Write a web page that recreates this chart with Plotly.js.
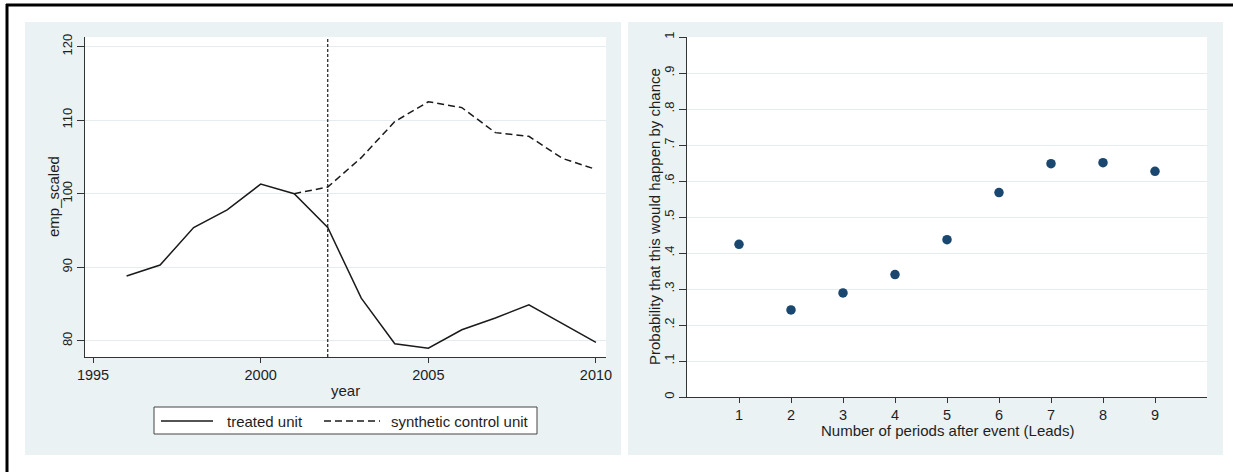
<!DOCTYPE html>
<html>
<head>
<meta charset="utf-8">
<script src="https://cdn.plot.ly/plotly-3.0.1.min.js"></script>
<style>
  html, body { margin: 0; padding: 0; background: #ffffff; }
  #chart { width: 1233px; height: 472px; }
</style>
</head>
<body>
<div id="chart"></div>
<script>
// ---------- data ----------
const years = [1996, 1997, 1998, 1999, 2000, 2001, 2002, 2003, 2004, 2005, 2006, 2007, 2008, 2009, 2010];
const treatedUnit = [88.8, 90.3, 95.4, 97.8, 101.3, 100.0, 95.4, 85.8, 79.6, 79.0, 81.5, 83.1, 84.9, 82.4, 79.8];
const syntheticYears = [2001, 2002, 2003, 2004, 2005, 2006, 2007, 2008, 2009, 2010];
const syntheticControl = [100.0, 100.9, 104.9, 109.8, 112.5, 111.7, 108.3, 107.8, 104.8, 103.3];
const treatmentYear = 2002;

const leads = [1, 2, 3, 4, 5, 6, 7, 8, 9];
const probability = [0.424, 0.242, 0.289, 0.340, 0.437, 0.568, 0.648, 0.651, 0.627];

const yearTicks = [1995, 2000, 2005, 2010];
const empTicks = [80, 90, 100, 110, 120];
const probTickVals = [0, 0.1, 0.2, 0.3, 0.4, 0.5, 0.6, 0.7, 0.8, 0.9, 1];
const probTickText = ['0', '.1', '.2', '.3', '.4', '.5', '.6', '.7', '.8', '.9', '1'];

const legendLabels = ['treated unit', 'synthetic control unit'];
const leftTitles = { x: 'year', y: 'emp_scaled' };
const rightTitles = { x: 'Number of periods after event (Leads)', y: 'Probability that this would happen by chance' };

// ---------- layout helpers ----------
const W = 1233, H = 472;
const fx = v => v / W;
const fy = v => 1 - v / H;
const FONT = '"Liberation Sans", Arial, sans-serif';
const TXT = '#1e1e1e';
const PANEL = '#EAF2F3';
const GRID = '#E4ECEE';
const AX = '#333333';

const traces = [
  {
    x: years, y: treatedUnit, type: 'scatter', mode: 'lines',
    name: legendLabels[0], xaxis: 'x', yaxis: 'y',
    line: { color: '#1a1a1a', width: 1.5 }, hoverinfo: 'x+y'
  },
  {
    x: syntheticYears, y: syntheticControl, type: 'scatter', mode: 'lines',
    name: legendLabels[1], xaxis: 'x', yaxis: 'y',
    line: { color: '#1a1a1a', width: 1.5, dash: '7px,4px' }, hoverinfo: 'x+y'
  },
  {
    x: leads, y: probability, type: 'scatter', mode: 'markers',
    name: 'probability', xaxis: 'x2', yaxis: 'y2',
    marker: { color: '#1a476f', size: 9.5, line: { width: 0 } }
  }
];

const axisCommon = {
  showline: true, linecolor: AX, linewidth: 1,
  ticks: 'outside', tickcolor: AX, tickwidth: 1,
  zeroline: false, fixedrange: true,
  tickfont: { family: FONT, size: 14.5, color: TXT }
};

const layout = {
  width: W, height: H,
  margin: { l: 0, r: 0, t: 0, b: 0, pad: 0 },
  paper_bgcolor: '#ffffff',
  plot_bgcolor: 'rgba(0,0,0,0)',
  showlegend: false,
  font: { family: FONT, color: TXT },
  xaxis: Object.assign({}, axisCommon, {
    domain: [fx(85), fx(606)], anchor: 'y',
    range: [1994.76, 2010.3],
    tickmode: 'array', tickvals: yearTicks,
    ticklen: 5, showgrid: false
  }),
  yaxis: Object.assign({}, axisCommon, {
    domain: [fy(357), fy(37)], anchor: 'x',
    range: [77.8, 121.3],
    tickmode: 'array', tickvals: empTicks,
    tickangle: -90, ticklen: 7,
    showgrid: true, gridcolor: GRID, gridwidth: 1,
    tickfont: { family: FONT, size: 13, color: TXT }
  }),
  xaxis2: Object.assign({}, axisCommon, {
    domain: [fx(687), fx(1207)], anchor: 'y2',
    range: [0, 10],
    tickmode: 'array', tickvals: leads,
    ticklen: 5, showgrid: false
  }),
  yaxis2: Object.assign({}, axisCommon, {
    domain: [fy(397), fy(37)], anchor: 'x2',
    range: [0, 1],
    tickmode: 'array', tickvals: probTickVals, ticktext: probTickText,
    tickangle: -90, ticklen: 7,
    showgrid: true, gridcolor: GRID, gridwidth: 1,
    tickfont: { family: FONT, size: 13, color: TXT }
  }),
  shapes: [
    // panel backgrounds
    { type: 'rect', xref: 'paper', yref: 'paper', x0: fx(25), x1: fx(621), y0: fy(455), y1: fy(22),
      fillcolor: PANEL, line: { width: 0 }, layer: 'below' },
    { type: 'rect', xref: 'paper', yref: 'paper', x0: fx(628), x1: fx(1223), y0: fy(455), y1: fy(22),
      fillcolor: PANEL, line: { width: 0 }, layer: 'below' },
    // plot areas
    { type: 'rect', xref: 'paper', yref: 'paper', x0: fx(85), x1: fx(606), y0: fy(357), y1: fy(37),
      fillcolor: '#ffffff', line: { width: 0 }, layer: 'below' },
    { type: 'rect', xref: 'paper', yref: 'paper', x0: fx(687), x1: fx(1207), y0: fy(397), y1: fy(37),
      fillcolor: '#ffffff', line: { width: 0 }, layer: 'below' },
    // treatment year marker
    { type: 'line', xref: 'x', yref: 'y domain', x0: treatmentYear, x1: treatmentYear, y0: 0, y1: 1,
      line: { color: '#1a1a1a', width: 1.2, dash: '3px,2px' }, layer: 'above' },
    // legend box
    { type: 'rect', xref: 'paper', yref: 'paper', x0: fx(154), x1: fx(537), y0: fy(434), y1: fy(407),
      fillcolor: '#ffffff', line: { color: '#444444', width: 1 } },
    { type: 'line', xref: 'paper', yref: 'paper', x0: fx(161), x1: fx(213), y0: fy(421), y1: fy(421),
      line: { color: '#1a1a1a', width: 1.5 } },
    { type: 'line', xref: 'paper', yref: 'paper', x0: fx(324), x1: fx(380), y0: fy(421), y1: fy(421),
      line: { color: '#1a1a1a', width: 1.5, dash: '7px,4px' } },
    // outer frame (top and left)
    { type: 'line', xref: 'paper', yref: 'paper', x0: fx(6), x1: 1, y0: fy(5), y1: fy(5),
      line: { color: '#000000', width: 3 } },
    { type: 'line', xref: 'paper', yref: 'paper', x0: fx(7), x1: fx(7), y0: fy(4), y1: 0,
      line: { color: '#000000', width: 3 } }
  ],
  annotations: [
    { text: leftTitles.x, xref: 'paper', yref: 'paper', x: fx(345.5), y: fy(390),
      xanchor: 'center', yanchor: 'middle', showarrow: false,
      font: { family: FONT, size: 15, color: TXT } },
    { text: leftTitles.y, xref: 'paper', yref: 'paper', x: fx(53), y: fy(197),
      xanchor: 'center', yanchor: 'middle', showarrow: false, textangle: -90,
      font: { family: FONT, size: 15, color: TXT } },
    { text: rightTitles.x, xref: 'paper', yref: 'paper', x: fx(947), y: fy(430),
      xanchor: 'center', yanchor: 'middle', showarrow: false,
      font: { family: FONT, size: 15, color: TXT } },
    { text: rightTitles.y, xref: 'paper', yref: 'paper', x: fx(654), y: fy(217),
      xanchor: 'center', yanchor: 'middle', showarrow: false, textangle: -90,
      font: { family: FONT, size: 15, color: TXT } },
    { text: legendLabels[0], xref: 'paper', yref: 'paper', x: fx(225), y: fy(421),
      xanchor: 'left', yanchor: 'middle', showarrow: false,
      font: { family: FONT, size: 15, color: TXT } },
    { text: legendLabels[1], xref: 'paper', yref: 'paper', x: fx(389), y: fy(421),
      xanchor: 'left', yanchor: 'middle', showarrow: false,
      font: { family: FONT, size: 15, color: TXT } }
  ]
};

Plotly.newPlot('chart', traces, layout, { displayModeBar: false, staticPlot: true });
</script>
</body>
</html>
